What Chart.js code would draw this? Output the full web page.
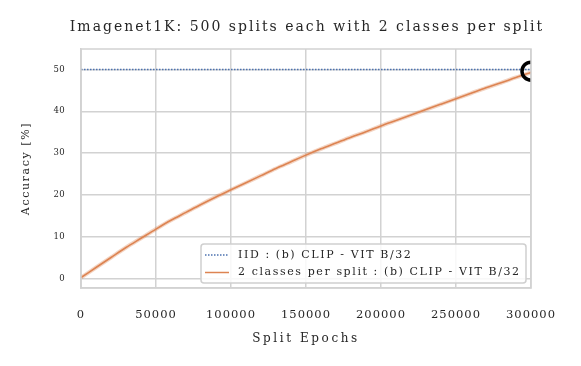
<!DOCTYPE html>
<html>
<head>
<meta charset="utf-8">
<script src="https://cdn.jsdelivr.net/npm/chart.js@4.4.1/dist/chart.umd.min.js"></script>
<style>
html,body{margin:0;padding:0;background:#fff;}
#wrap{width:581px;height:366px;position:relative;}
</style>
</head>
<body>
<div id="wrap"><canvas id="c" width="581" height="366"></canvas></div>
<script>
// ---- data ----
const epochs = [0,10000,20000,30000,40000,50000,60000,70000,80000,90000,100000,110000,120000,130000,140000,150000,160000,170000,180000,190000,200000,210000,220000,230000,240000,250000,260000,270000,280000,290000,300000];
const splitAcc = [0.2,2.6,5.0,7.4,9.6,11.8,13.9,15.8,17.7,19.5,21.2,22.9,24.6,26.3,27.9,29.5,31.0,32.4,33.8,35.1,36.5,37.8,39.1,40.4,41.7,43.0,44.3,45.6,46.8,48.1,49.3];
const iidEpochs = [0,300000];
const iidAcc = [50.0,50.0];
const markerEpoch = [300000];
const markerAcc = [49.6];
const xTicks = [0,50000,100000,150000,200000,250000,300000];
const yTicks = [0,10,20,30,40,50];
const labels = ['IID : (b) CLIP - VIT B/32','2 classes per split : (b) CLIP - VIT B/32'];
const titleText = 'Imagenet1K: 500 splits each with 2 classes per split';

const SERIF = '"DejaVu Serif", serif';
const TXT = '#262626';
const GRID = '#d2d2d2';
const BLUE = '#4c72b0';
const ORANGE = '#dd8452';

const pts = (xs, ys) => xs.map((x, i) => ({x: x, y: ys[i]}));

// letter spacing per scale part (the reference text is spaced out)
const SPACING = {x: {labels: '1px', title: '2.6px'}, y: {labels: '0.3px', title: '1.6px'}};
const spacingPlugin = {
  id: 'spacing',
  afterLayout(chart) {
    Object.keys(SPACING).forEach(id => {
      const s = chart.scales[id];
      if (!s || s._spaced) return;
      const ctx = chart.ctx;
      const dl = s.drawLabels.bind(s), dt = s.drawTitle.bind(s);
      s.drawLabels = function(a) { ctx.save(); ctx.letterSpacing = SPACING[id].labels; dl(a); ctx.restore(); };
      s.drawTitle = function(a) { ctx.save(); ctx.letterSpacing = SPACING[id].title; dt(a); ctx.restore(); };
      s._spaced = true;
    });
  }
};

const titlePlugin = {
  id: 'mytitle',
  afterDraw(chart) {
    const {ctx, chartArea: a} = chart;
    ctx.save();
    ctx.letterSpacing = '2px';
    ctx.font = '14px ' + SERIF;
    ctx.fillStyle = TXT;
    ctx.textAlign = 'center';
    ctx.textBaseline = 'middle';
    ctx.fillText(titleText, (a.left + a.right) / 2 + 1, 27);
    ctx.restore();
  }
};

const framePlugin = {
  id: 'frame',
  afterDraw(chart) {
    const {ctx, chartArea: a} = chart;
    ctx.save();
    ctx.strokeStyle = GRID;
    ctx.lineWidth = 1.5;
    ctx.strokeRect(a.left, a.top, a.right - a.left, a.bottom - a.top);
    ctx.restore();
  }
};

const legendPlugin = {
  id: 'inlegend',
  afterDatasetsDraw(chart) {
    const {ctx, chartArea: a} = chart;
    const items = chart.data.datasets.filter(d => d.inLegend);
    const x0 = a.right - 330, y0 = a.bottom - 44, w = 325, h = 39;
    ctx.save();
    ctx.beginPath();
    ctx.roundRect(x0, y0, w, h, 3);
    ctx.fillStyle = 'rgba(255,255,255,0.85)';
    ctx.fill();
    ctx.strokeStyle = '#cfcfcf';
    ctx.lineWidth = 1.5;
    ctx.stroke();
    ctx.letterSpacing = '1.6px';
    ctx.font = '11px ' + SERIF;
    ctx.fillStyle = TXT;
    ctx.textBaseline = 'middle';
    items.forEach((d, i) => {
      const yy = y0 + 11 + i * 17.5;
      ctx.beginPath();
      ctx.strokeStyle = d.borderColor;
      ctx.lineWidth = 1.5;
      ctx.setLineDash(d.borderDash || []);
      ctx.moveTo(x0 + 4, yy);
      ctx.lineTo(x0 + 28, yy);
      ctx.stroke();
      ctx.setLineDash([]);
      ctx.fillText(d.label, x0 + 37, yy);
    });
    ctx.restore();
  }
};

new Chart(document.getElementById('c'), {
  type: 'line',
  data: {
    datasets: [
      {
        label: labels[0], inLegend: true,
        data: pts(iidEpochs, iidAcc),
        borderColor: BLUE, borderWidth: 1.6, borderDash: [1.5, 1.5],
        pointRadius: 0, order: 2
      },
      {
        label: labels[1] + ' band', inLegend: false,
        data: pts(epochs, splitAcc),
        borderColor: 'rgba(221,132,82,0.35)', borderWidth: 4,
        pointRadius: 0, cubicInterpolationMode: 'monotone', order: 4
      },
      {
        label: labels[1], inLegend: true,
        data: pts(epochs, splitAcc),
        borderColor: ORANGE, borderWidth: 1.6,
        pointRadius: 0, cubicInterpolationMode: 'monotone', order: 3
      },
      {
        label: 'end', inLegend: false, type: 'scatter',
        data: pts(markerEpoch, markerAcc),
        borderColor: '#000', borderWidth: 3.5, backgroundColor: 'rgba(0,0,0,0)',
        pointRadius: 9, clip: 0, order: 1
      }
    ]
  },
  options: {
    responsive: false,
    animation: false,
    events: [],
    layout: {padding: {left: 0, right: 50, top: 49, bottom: 0}},
    plugins: {
      legend: {display: false},
      tooltip: {enabled: false},
      title: {display: false}
    },
    scales: {
      x: {
        type: 'linear', min: 0, max: 300000,
        afterBuildTicks: s => { s.ticks = xTicks.map(v => ({value: v})); },
        afterFit: s => { s.height = 78; },
        grid: {color: GRID, lineWidth: 1.5, drawTicks: false},
        border: {color: GRID, width: 1.5},
        ticks: {color: TXT, padding: 20, maxRotation: 0, font: {family: SERIF, size: 11.5},
                callback: v => String(v)},
        title: {display: true, text: 'Split Epochs', color: TXT,
                font: {family: SERIF, size: 12}, padding: {top: 0, bottom: 20}}
      },
      y: {
        type: 'linear', min: -2.3, max: 54.9,
        afterBuildTicks: s => { s.ticks = yTicks.map(v => ({value: v})); },
        afterFit: s => { s.width = 81; },
        grid: {color: GRID, lineWidth: 1.5, drawTicks: false},
        border: {color: GRID, width: 1.5},
        ticks: {color: TXT, padding: 16, font: {family: SERIF, size: 8.5},
                callback: v => String(v)},
        title: {display: true, text: 'Accuracy [%]', color: TXT,
                font: {family: SERIF, size: 11}, padding: {top: 20, bottom: 0}}
      }
    }
  },
  plugins: [spacingPlugin, titlePlugin, framePlugin, legendPlugin]
});
</script>
</body>
</html>
